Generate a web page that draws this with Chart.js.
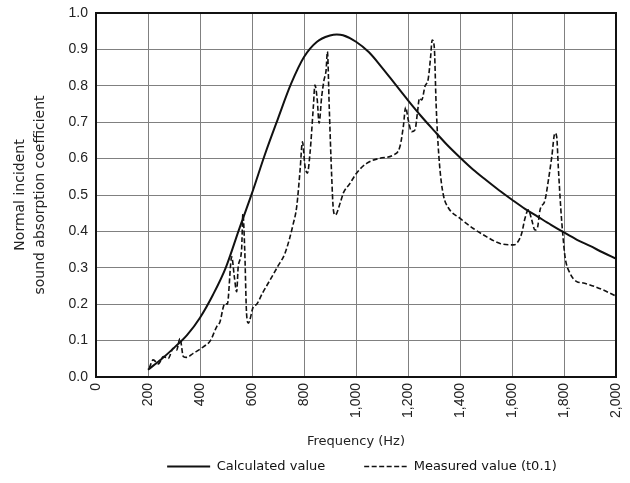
<!DOCTYPE html>
<html>
<head>
<meta charset="utf-8">
<script src="https://cdn.jsdelivr.net/npm/chart.js@4"></script>
<style>
  body { margin: 0; background: #fff; }
  #wrap { width: 630px; height: 483px; }
</style>
</head>
<body>
<div id="wrap"><canvas id="absChart"></canvas></div>
<script>
// calculated curve
const calcFreq = [200, 250, 300, 350, 400, 450, 500, 550, 600, 650, 700, 750, 800, 850, 900, 926, 950, 1000,
    1050, 1100, 1150, 1200, 1250, 1300, 1350, 1400, 1450, 1500, 1550, 1600, 1650, 1700, 1750, 1800,
    1850, 1900, 1950, 2000];
const calcValue = [0.02, 0.048, 0.08, 0.115, 0.163, 0.226, 0.302, 0.405, 0.505, 0.612, 0.71, 0.805, 0.879,
    0.921, 0.938, 0.941, 0.939, 0.921, 0.892, 0.85, 0.805, 0.76, 0.717, 0.677, 0.638, 0.603, 0.57, 0.541,
    0.513, 0.487, 0.462, 0.44, 0.418, 0.397, 0.377, 0.36, 0.342, 0.325];

// measured (t0.1)
const measFreq = [205, 220, 240, 259, 278, 297, 310, 323, 336, 349, 374, 413, 440, 464, 477, 490, 496, 505,
    522, 532, 541, 547, 560, 565, 572, 579, 586, 605, 618, 640, 669, 700, 727, 759, 772, 785, 794, 804,
    813, 823, 836, 842, 851, 858, 868, 877, 885, 890, 897, 906, 913, 920, 940, 951, 977, 1002, 1041,
    1092, 1144, 1169, 1182, 1191, 1201, 1214, 1227, 1236, 1244, 1253, 1265, 1278, 1287, 1293, 1301,
    1308, 1314, 1323, 1336, 1355, 1400, 1451, 1503, 1554, 1605, 1618, 1637, 1650, 1663, 1676, 1688,
    1697, 1708, 1727, 1740, 1753, 1765, 1772, 1778, 1788, 1795, 1804, 1823, 1849, 1868, 1900, 1951, 2000];
const measValue = [0.025, 0.047, 0.036, 0.056, 0.051, 0.079, 0.074, 0.106, 0.056, 0.054, 0.065, 0.083, 0.1,
    0.138, 0.152, 0.193, 0.202, 0.2, 0.33, 0.276, 0.234, 0.303, 0.35, 0.448, 0.35, 0.175, 0.148, 0.193,
    0.2, 0.23, 0.266, 0.305, 0.34, 0.422, 0.468, 0.569, 0.646, 0.578, 0.56, 0.614, 0.743, 0.802, 0.761,
    0.697, 0.77, 0.816, 0.843, 0.894, 0.743, 0.56, 0.459, 0.445, 0.48, 0.505, 0.532, 0.56, 0.587, 0.601,
    0.61, 0.633, 0.688, 0.741, 0.706, 0.674, 0.679, 0.724, 0.766, 0.761, 0.798, 0.82, 0.88, 0.926, 0.907,
    0.752, 0.66, 0.569, 0.5, 0.465, 0.436, 0.408, 0.385, 0.367, 0.363, 0.367, 0.394, 0.436, 0.459, 0.431,
    0.404, 0.408, 0.459, 0.486, 0.541, 0.605, 0.67, 0.66, 0.578, 0.459, 0.395, 0.33, 0.285, 0.262, 0.259,
    0.253, 0.239, 0.222];

const xTitle = 'Frequency (Hz)';
const yTitle = ['Normal incident', 'sound absorption coefficient'];

const toPoints = (xs, ys) => xs.map((x, i) => ({ x: x, y: ys[i] }));

Chart.defaults.font.family = '"Liberation Sans", Arial, sans-serif';
Chart.defaults.color = '#222';
const textFont = '"DejaVu Sans", sans-serif';

// black frame round the plot area, moves the legend to the right
const framePlugin = {
    id: 'frame',
    afterLayout(chart) {
        const lg = chart.legend;
        lg.left += 54;
        lg.right += 54;
    },
    afterDraw(chart) {
        const { ctx, chartArea: a } = chart;
        ctx.save();
        ctx.strokeStyle = '#111';
        ctx.lineWidth = 2;
        ctx.strokeRect(a.left, a.top, a.right - a.left, a.bottom - a.top);
        ctx.restore();
    },
};

new Chart(document.querySelector('#absChart'), {
    type: 'line',
    data: {
        datasets: [
            {
                label: 'Calculated value',
                data: toPoints(calcFreq, calcValue),
                borderColor: '#111',
                borderWidth: 2,
                pointRadius: 0,
                cubicInterpolationMode: 'monotone',
            },
            {
                label: 'Measured value (t0.1)',
                data: toPoints(measFreq, measValue),
                borderColor: '#111',
                borderWidth: 1.6,
                borderDash: [5, 2.5],
                pointRadius: 0,
                cubicInterpolationMode: 'monotone',
            },
        ],
    },
    options: {
        responsive: true,
        maintainAspectRatio: false,
        animation: false,
        layout: {
            padding: { top: 13, right: 14, left: 0, bottom: 0 },
        },
        scales: {
            x: {
                type: 'linear',
                min: 0,
                max: 2000,
                ticks: {
                    stepSize: 200,
                    minRotation: 90,
                    maxRotation: 90,
                    padding: 6,
                    font: { size: 14 },
                },
                grid: { color: '#808080', drawTicks: false },
                border: { color: '#111', width: 2 },
                title: {
                    display: true,
                    text: xTitle,
                    font: { family: textFont, size: 13 },
                    padding: { top: 0, bottom: 1 },
                },
                afterFit(scale) {
                    scale.height = 73;
                    scale.paddingLeft = 0;
                    scale.paddingRight = 0;
                },
            },
            y: {
                min: 0,
                max: 1,
                ticks: {
                    stepSize: 0.1,
                    padding: 8,
                    font: { size: 14 },
                    callback: (v) => v.toFixed(1),
                },
                grid: { color: '#808080', drawTicks: false },
                border: { color: '#111', width: 2 },
                title: {
                    display: true,
                    text: yTitle,
                    font: { family: textFont, size: 14, lineHeight: 1.45 },
                    padding: { top: 10, bottom: 0 },
                },
                afterFit(scale) {
                    scale.width = 96;
                    scale.paddingTop = 0;
                    scale.paddingBottom = 0;
                },
            },
        },
        plugins: {
            legend: {
                position: 'bottom',
                labels: {
                    usePointStyle: true,
                    pointStyle: 'line',
                    pointStyleWidth: 43,
                    padding: 10,
                    color: '#111',
                    font: { family: textFont, size: 13 },
                    generateLabels(chart) {
                        const items = Chart.defaults.plugins.legend.labels.generateLabels(chart);
                        items[0].text += '\u00a0\u00a0\u00a0\u00a0\u00a0\u00a0\u00a0';
                        items[0].lineWidth = 2;
                        items[1].lineWidth = 1.6;
                        items[1].lineDash = [5, 2.5];
                        return items;
                    },
                },
            },
            tooltip: { enabled: false },
        },
    },
    plugins: [framePlugin],
});
</script>
</body>
</html>
